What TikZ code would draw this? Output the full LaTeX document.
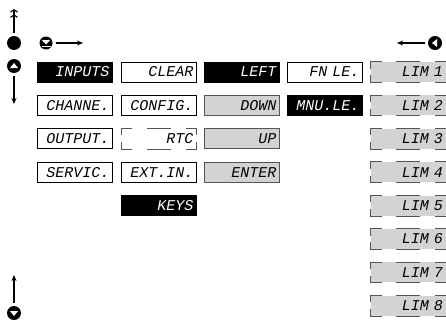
\documentclass[tikz,border=0pt]{standalone}
\usepackage{fontspec}
\newfontfamily\segfont{Liberation Mono}
\usetikzlibrary{arrows.meta}
\definecolor{lgray}{HTML}{D3D3D3}
\definecolor{dgray}{HTML}{555555}
\tikzset{
 box/.style={rectangle, minimum height=20pt, text width=69pt, align=right, inner xsep=3pt, inner ysep=0pt,
   font=\segfont\itshape\fontsize{15}{15}\selectfont, anchor=west, line width=0.8pt},
 wbox/.style={box, draw=black, fill=white, text=black},
 bbox/.style={box, fill=black, draw=black, text=white},
 gbox/.style={box, fill=lgray, draw=dgray, text=black},
 sbox/.style={box, fill=lgray, text=black},
 rbox/.style={box, fill=white, text=black},
 seg/.style={line width=1pt, draw=dgray, line cap=butt},
 arr/.style={line width=1.1pt, -{Stealth[length=6pt,width=5pt]}},
 knob/.style={circle, fill=black, minimum size=14pt, inner sep=0pt},
}
\newcommand{\segborder}[1]{%
 \draw[seg] ([yshift=-7pt]#1.north west) |- ([xshift=11pt]#1.north west);
 \draw[seg] ([xshift=-11pt]#1.north east) -| ([yshift=-7pt]#1.north east);
 \draw[seg] ([yshift=7pt]#1.south west) |- ([xshift=11pt]#1.south west);
 \draw[seg] ([xshift=-11pt]#1.south east) -| ([yshift=7pt]#1.south east);
 \draw[seg] ([xshift=-12pt]#1.north) -- ([xshift=12pt]#1.north);
 \draw[seg] ([xshift=-12pt]#1.south) -- ([xshift=12pt]#1.south);}
\begin{document}
\begin{tikzpicture}[x=1pt,y=1pt]
\useasboundingbox (0,0) rectangle (446,-324);
% column 1
\node[bbox] (inp) at (37,-72) {INPUTS};
\node[wbox] (chn) at (37,-105.4) {CHANNE.};
\node[wbox] (outp) at (37,-138.8) {OUTPUT.};
\node[wbox] (serv) at (37,-172.2) {SERVIC.};
% column 2
\node[wbox] (clr) at (121,-72) {CLEAR};
\node[wbox] (cfg) at (121,-105.4) {CONFIG.};
\node[rbox] (rtc) at (121,-138.8) {RTC};
\node[wbox] (ext) at (121,-172.2) {EXT.IN.};
\node[bbox] (keys) at (121,-205.6) {KEYS};
% column 3
\node[bbox] (left) at (204,-72) {LEFT};
\node[gbox] (down) at (204,-105.4) {DOWN};
\node[gbox] (up) at (204,-138.8) {UP};
\node[gbox] (enter) at (204,-172.2) {ENTER};
% column 4
\node[wbox] (fn) at (287,-72) {FN LE.};
\node[bbox] (mnu) at (287,-105.4) {MNU.LE.};
% column 5
\foreach \i in {1,...,8}{
  \node[sbox] (l\i) at (370.5,{-72-33.4*(\i-1)}) {LIM \i};
  \segborder{l\i}
}
\segborder{rtc}
% icons left
\coordinate (tA) at (14,-33);
\coordinate (tB) at (14,-9);
\draw[line width=1.1pt, -{Straight Barb[length=2.5pt,width=7pt,sep=1.5pt] Straight Barb[length=2.5pt,width=7pt]}] (tA) -- (tB);
\node[knob] (dot) at (14,-43) {};
\node[knob, minimum size=13pt] (endk) at (46,-43) {};
\fill[white] ([xshift=-4pt,yshift=2.8pt]endk.center) -- ([xshift=4pt,yshift=2.8pt]endk.center) -- ([yshift=-1.5pt]endk.center) -- cycle;
\draw[white, line width=0.8pt] ([xshift=-4.5pt,yshift=-3.2pt]endk.center) -- ([xshift=4.5pt,yshift=-3.2pt]endk.center);
\coordinate (rA) at (83,-43);
\draw[arr] (endk.east) ++(3,0) coordinate (rS) (rS) -- (rA);
\node[knob] (upk) at (14,-66) {};
\fill[white] ([xshift=-4pt,yshift=-2pt]upk.center) -- ([xshift=4pt,yshift=-2pt]upk.center) -- ([yshift=3pt]upk.center) -- cycle;
\coordinate (dA) at (14,-104);
\draw[arr] (upk.south) ++(0,-3) coordinate (dS) (dS) -- (dA);
\node[knob] (dnk) at (14,-313) {};
\fill[white] ([xshift=-4pt,yshift=2pt]dnk.center) -- ([xshift=4pt,yshift=2pt]dnk.center) -- ([yshift=-3pt]dnk.center) -- cycle;
\coordinate (uA) at (14,-275);
\draw[arr] (dnk.north) ++(0,3) coordinate (uS) (uS) -- (uA);
% icons right
\node[knob] (lfk) at (435,-43) {};
\fill[white] ([xshift=2pt,yshift=-4pt]lfk.center) -- ([xshift=2pt,yshift=4pt]lfk.center) -- ([xshift=-3pt]lfk.center) -- cycle;
\coordinate (lA) at (397,-43);
\draw[arr] (lfk.west) ++(-3,0) coordinate (lS) (lS) -- (lA);
\end{tikzpicture}
\end{document}
